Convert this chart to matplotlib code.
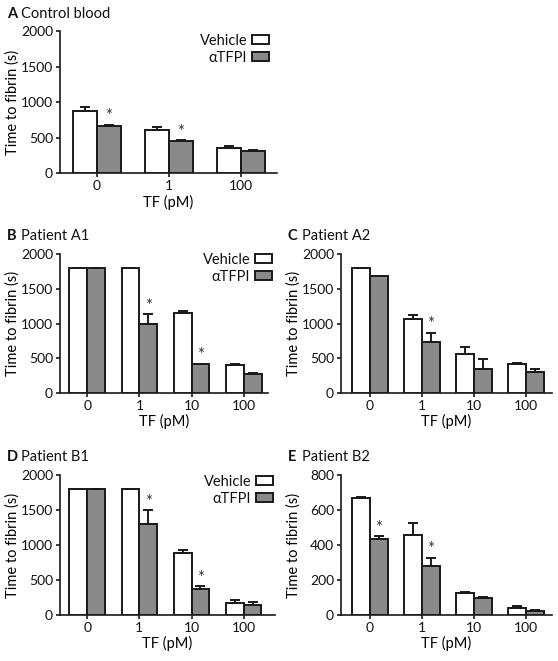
import matplotlib
matplotlib.use('Agg')
import matplotlib.pyplot as plt
from matplotlib.patches import Patch
from matplotlib.transforms import blended_transform_factory

plt.rcParams['font.family'] = ['Lato', 'DejaVu Sans']
plt.rcParams['text.color'] = '#111111'

# data
tf_a = ['0', '1', '100']
vehicle_a = [875, 607, 360]
vehicle_a_err = [60, 38, 28]
tfpi_a = [670, 453, 318]
tfpi_a_err = [12, 12, 5]
sig_a = [True, True, False]

tf_pat = ['0', '1', '10', '100']

vehicle_b = [1800, 1800, 1150, 394]
vehicle_b_err = [0, 0, 25, 15]
tfpi_b = [1800, 990, 410, 274]
tfpi_b_err = [0, 145, 10, 10]
sig_b = [False, True, True, False]

vehicle_c = [1800, 1072, 553, 409]
vehicle_c_err = [0, 58, 110, 14]
tfpi_c = [1680, 736, 341, 293]
tfpi_c_err = [0, 130, 140, 48]
sig_c = [False, True, False, False]

vehicle_d = [1800, 1800, 880, 167]
vehicle_d_err = [0, 0, 43, 43]
tfpi_d = [1800, 1305, 373, 139]
tfpi_d_err = [0, 190, 38, 38]
sig_d = [False, True, True, False]

vehicle_e = [670, 457, 124, 38]
vehicle_e_err = [7, 69, 4, 12]
tfpi_e = [434, 277, 96, 19]
tfpi_e_err = [15, 50, 4, 6]
sig_e = [True, True, False, False]

W, H = 558, 661
fig = plt.figure(figsize=(W / 100, H / 100), dpi=100)

GREY = '#8a8a8a'
EDGE = '#1a1a1a'


def px_axes(left, top, right, bottom):
    return fig.add_axes([left / W, 1 - bottom / H, (right - left) / W, (bottom - top) / H])


def draw_panel(ax, box, letter, title, tfs, veh, veh_err, tfpi, tfpi_err, sig,
               ymax, ystep, xlim, width, legend_at=None):
    left, top, right, bottom = box
    x = list(range(len(tfs)))
    xv = [i - width / 2 for i in x]
    xt = [i + width / 2 for i in x]
    ax.bar(xv, veh, width, color='white', edgecolor=EDGE, linewidth=1.4, zorder=3)
    ax.bar(xt, tfpi, width, color=GREY, edgecolor=EDGE, linewidth=1.4, zorder=3)
    ax.errorbar(xv, veh, yerr=[[0] * len(veh), veh_err], fmt='none', ecolor=EDGE,
                elinewidth=1.4, capsize=3.6, capthick=1.4, zorder=4)
    ax.errorbar(xt, tfpi, yerr=[[0] * len(tfpi), tfpi_err], fmt='none', ecolor=EDGE,
                elinewidth=1.4, capsize=3.6, capthick=1.4, zorder=4)
    for xi, v, e, s in zip(xt, tfpi, tfpi_err, sig):
        if s:
            ax.annotate('*', (xi, v + e), xytext=(0, 2.5), textcoords='offset points',
                        ha='center', va='baseline', fontsize=12, color='#333333')

    ax.set_xlim(*xlim)
    ax.set_ylim(0, ymax)
    ax.set_yticks(range(0, ymax + 1, ystep))
    ax.set_xticks(x)
    ax.set_xticklabels(tfs)
    for s in ['top', 'right']:
        ax.spines[s].set_visible(False)
    for s in ['left', 'bottom']:
        ax.spines[s].set_linewidth(1.2)
        ax.spines[s].set_color(EDGE)
    ax.tick_params(width=1.2, length=3, pad=2, labelsize=10, color=EDGE, labelcolor='#111111')

    ax.set_ylabel('Time to fibrin (s)', fontsize=10.5, va='center')
    ax.yaxis.set_label_coords((left - 47) / W, 0.5,
                              transform=blended_transform_factory(fig.transFigure, ax.transAxes))
    ax.set_xlabel('TF (pM)', fontsize=10.5, va='center')
    ax.xaxis.set_label_coords(0.5, 1 - (bottom + 29) / H,
                              transform=blended_transform_factory(ax.transAxes, fig.transFigure))

    # panel letter and title
    tx = left - 53
    ty = 1 - (top - 18) / H
    fig.text(tx / W, ty, letter, fontsize=10.5, fontweight='bold', va='center')
    fig.text((tx + 14) / W, ty, title, fontsize=10.5, va='center')

    if legend_at is not None:
        handles = [Patch(facecolor='white', edgecolor=EDGE, linewidth=1.4),
                   Patch(facecolor=GREY, edgecolor=EDGE, linewidth=1.4)]
        ax.legend(handles, ['Vehicle', 'αTFPI'], loc='upper right',
                  bbox_to_anchor=(legend_at[0] / W, 1 - legend_at[1] / H),
                  bbox_transform=fig.transFigure, frameon=False, markerfirst=False,
                  fontsize=10.5, handlelength=1.15, handleheight=0.6, handletextpad=0.35,
                  labelspacing=0.2, borderpad=0, borderaxespad=0)


box_a = (60, 31.5, 277, 173)
box_b = (60, 254.3, 268, 392.7)
box_c = (341, 254.3, 552, 392.7)
box_d = (60, 475.3, 275, 614.7)
box_e = (341, 475.3, 552, 614.7)

ax_a = px_axes(*box_a)
ax_b = px_axes(*box_b)
ax_c = px_axes(*box_c)
ax_d = px_axes(*box_d)
ax_e = px_axes(*box_e)

draw_panel(ax_a, box_a, 'A', 'Control blood', tf_a, vehicle_a, vehicle_a_err,
           tfpi_a, tfpi_a_err, sig_a, 2000, 500, (-0.51, 2.5), 0.333, legend_at=(269, 34))
draw_panel(ax_b, box_b, 'B', 'Patient A1', tf_pat, vehicle_b, vehicle_b_err,
           tfpi_b, tfpi_b_err, sig_b, 2000, 500, (-0.52, 3.46), 0.34, legend_at=(272, 253))
draw_panel(ax_c, box_c, 'C', 'Patient A2', tf_pat, vehicle_c, vehicle_c_err,
           tfpi_c, tfpi_c_err, sig_c, 2000, 500, (-0.56, 3.5), 0.34)
draw_panel(ax_d, box_d, 'D', 'Patient B1', tf_pat, vehicle_d, vehicle_d_err,
           tfpi_d, tfpi_d_err, sig_d, 2000, 500, (-0.52, 3.6), 0.34, legend_at=(273, 475))
draw_panel(ax_e, box_e, 'E', 'Patient B2', tf_pat, vehicle_e, vehicle_e_err,
           tfpi_e, tfpi_e_err, sig_e, 800, 200, (-0.56, 3.5), 0.34)

fig.savefig('out.png', dpi=100)
